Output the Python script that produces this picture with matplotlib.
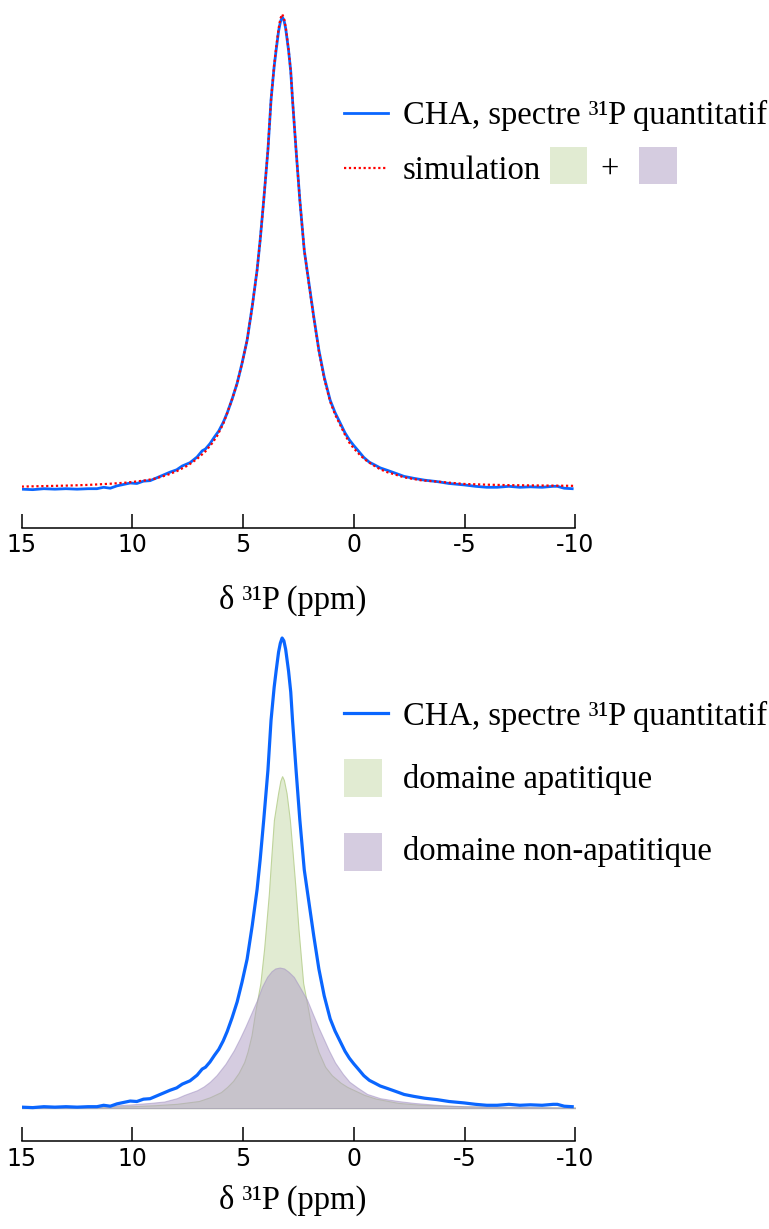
import matplotlib
matplotlib.use('Agg')
import matplotlib.pyplot as plt
from matplotlib.lines import Line2D
from matplotlib.patches import Rectangle

W, H = 769, 1229

# CHA quantitative 31P spectrum (ppm, intensity a.u.)
cha_ppm = [15.0, 14.5, 14.0, 13.5, 13.0, 12.5, 12.0, 11.6, 11.3, 11.0, 10.7,
           10.4, 10.1, 9.8, 9.5, 9.2, 8.9, 8.6, 8.3, 8.0, 7.75, 7.4, 7.08,
           6.85, 6.7, 6.5, 6.3, 6.1, 5.9, 5.72, 5.5, 5.27, 5.05, 4.82, 4.59,
           4.37, 4.23, 4.07, 3.88, 3.74, 3.6, 3.51, 3.4, 3.32, 3.24, 3.16,
           3.08, 2.95, 2.85, 2.77, 2.61, 2.44, 2.24, 2.03, 1.81, 1.58, 1.34,
           1.07, 0.85, 0.62, 0.4, 0.2, 0.0, -0.2, -0.45, -0.7, -0.95, -1.19,
           -1.5, -1.86, -2.27, -2.7, -3.2, -3.76, -4.3, -4.98, -5.5, -6.0,
           -6.47, -7.0, -7.5, -7.97, -8.5, -9.0, -9.19, -9.5, -9.86]
cha_int = [0.2, 0.1, 0.3, 0.2, 0.3, 0.2, 0.3, 0.3, 0.6, 0.4, 0.9,
           1.2, 1.5, 1.4, 1.9, 2.0, 2.6, 3.2, 3.8, 4.3, 5.1, 5.8, 7.0,
           8.3, 8.7, 9.8, 11.2, 12.5, 14.3, 16.3, 19.2, 22.6, 26.8, 31.7, 38.8,
           46.5, 52.9, 61.3, 71.9, 82.5, 89.5, 93.0, 97.0, 98.9, 100.0, 99.4,
           97.6, 93.0, 88.5, 82.5, 71.9, 61.3, 50.7, 43.8, 36.6, 29.6, 23.9,
           19.0, 16.4, 14.2, 12.1, 10.6, 9.4, 8.3, 6.9, 5.9, 5.3, 4.7,
           4.2, 3.6, 2.9, 2.5, 2.1, 1.8, 1.4, 1.1, 0.8, 0.6,
           0.6, 0.8, 0.6, 0.7, 0.6, 0.8, 0.8, 0.4, 0.3]

# simulation (sum of both domains)
sim_ppm = [15.0, 14.0, 13.0, 12.0, 11.0, 10.24, 9.5, 9.0, 8.43, 8.0, 7.5,
           7.08, 6.7, 6.4, 6.17, 5.9, 5.72, 5.5, 5.27, 5.05, 4.82, 4.59,
           4.37, 4.23, 4.07, 3.88, 3.74, 3.6, 3.51, 3.4, 3.32, 3.24, 3.16,
           3.08, 2.95, 2.85, 2.77, 2.61, 2.44, 2.24, 2.03, 1.81, 1.58, 1.34,
           1.07, 0.85, 0.62, 0.4, 0.2, 0.0, -0.3, -0.6, -0.9, -1.19, -1.5,
           -1.86, -2.27, -3.0, -3.76, -4.5, -5.0, -6.0, -7.0, -8.0, -9.0, -10.0]
sim_int = [0.75, 0.85, 0.95, 1.1, 1.35, 1.6, 2.0, 2.4, 3.2, 4.0, 5.2,
           6.6, 8.2, 9.9, 11.5, 14.0, 16.3, 19.2, 22.6, 26.8, 31.7, 38.8,
           46.5, 52.9, 61.3, 72.0, 82.5, 89.8, 93.5, 97.5, 99.6, 100.6, 99.8,
           97.9, 93.2, 88.5, 82.5, 71.9, 61.3, 50.7, 43.6, 36.4, 29.4, 23.6,
           18.7, 16.0, 13.8, 11.7, 10.0, 8.8, 7.3, 6.1, 5.2, 4.4, 3.8,
           3.3, 2.7, 2.1, 1.8, 1.5, 1.3, 1.15, 1.05, 1.0, 0.95, 0.9]

# apatitic domain component
apa_ppm = [15.0, 12.0, 10.0, 9.0, 8.0, 7.0, 6.5, 6.0, 5.72, 5.45, 5.2, 4.95,
           4.8, 4.62, 4.44, 4.22, 4.05, 3.84, 3.72, 3.61, 3.42, 3.32, 3.24,
           3.16, 3.04, 2.89, 2.76, 2.64, 2.5, 2.29, 2.06, 1.9, 1.6, 1.3, 1.0,
           0.6, 0.3, -0.47, -1.0, -2.0, -3.0, -5.0, -7.5, -10.0]
apa_int = [0.1, 0.2, 0.4, 0.6, 0.9, 1.5, 2.3, 3.4, 4.5, 5.8, 7.5, 9.8,
           12.0, 15.5, 20.9, 26.6, 34.0, 45.5, 54.0, 61.3, 67.0, 69.6, 70.6,
           69.8, 67.0, 61.3, 54.0, 47.0, 38.0, 26.6, 20.9, 16.5, 12.0, 8.8, 7.0,
           5.4, 4.5, 2.8, 2.0, 1.1, 0.7, 0.35, 0.2, 0.1]

# non-apatitic domain component
nap_ppm = [15.0, 13.0, 12.0, 11.0, 10.0, 9.2, 8.56, 8.0, 7.66, 7.08, 6.78,
           6.5, 6.2, 5.8, 5.42, 5.15, 4.9, 4.62, 4.37, 4.15, 3.92, 3.72, 3.55,
           3.35, 3.15, 2.95, 2.71, 2.45, 2.11, 1.85, 1.6, 1.35, 1.13, 0.85,
           0.5, 0.2, -0.15, -0.6, -1.19, -2.0, -2.7, -4.0, -5.0, -7.0, -10.0]
nap_int = [0.1, 0.2, 0.3, 0.5, 0.8, 1.1, 1.4, 2.1, 2.8, 3.8, 4.6,
           5.6, 7.0, 9.4, 12.3, 14.8, 17.3, 20.3, 23.0, 25.8, 27.9, 29.1, 29.7,
           29.9, 29.7, 29.0, 27.9, 25.8, 23.0, 20.0, 17.2, 14.6, 12.3, 9.7,
           7.3, 5.6, 4.4, 3.0, 2.1, 1.5, 1.1, 0.6, 0.4, 0.25, 0.1]

TICKS = [15, 10, 5, 0, -5, -10]
TICK_LABELS = ['15', '10', '5', '0', '-5', '-10']

BLUE = '#0a66ff'
RED = '#ff0000'
GREEN_FILL = '#e1ebd2'
GREEN_EDGE = '#bfd49b'
PURPLE = '#b3a2c7'
PURPLE_EDGE = '#a393c4'
SERIF = 'Liberation Serif'
FS = 23.5
XLABEL = 'δ ³¹P (ppm)'
CHA_LABEL = 'CHA, spectre ³¹P quantitatif'


def px_axes(fig, left, top, right, bottom):
    return fig.add_axes([left / W, 1 - bottom / H,
                         (right - left) / W, (bottom - top) / H])


def style_axis(ax, ymin, label_y):
    ax.set_xlim(15, -10)
    ax.set_ylim(ymin, 102)
    for side in ('left', 'right', 'top'):
        ax.spines[side].set_visible(False)
    ax.spines['bottom'].set_linewidth(1.1)
    ax.set_yticks([])
    ax.set_xticks(TICKS)
    ax.set_xticklabels(TICK_LABELS, fontsize=17, family='DejaVu Sans')
    ax.tick_params(axis='x', direction='in', length=10, width=1.1, pad=4)
    ax.set_xlabel(XLABEL, family=SERIF, fontsize=FS)
    ax.xaxis.set_label_coords(0.489, label_y)
    ax.patch.set_alpha(0)


fig = plt.figure(figsize=(W / 100, H / 100), dpi=100)

# top panel: spectrum + simulation
ax1 = px_axes(fig, 21.7, 7.5, 575.3, 527.5)
ax1.plot(cha_ppm, cha_int, color=BLUE, lw=2.0)
ax1.plot(sim_ppm, sim_int, color=RED, lw=1.6, linestyle=(0, (1, 1.2)))
style_axis(ax1, -7.9, -0.111)

# bottom panel: decomposition
ax2 = px_axes(fig, 21.7, 628.6, 575.3, 1141)
ax2.fill_between(apa_ppm, 0, apa_int, facecolor=GREEN_FILL,
                 edgecolor=GREEN_EDGE, lw=0.8)
ax2.fill_between(nap_ppm, 0, nap_int, facecolor=PURPLE, alpha=0.55,
                 edgecolor=PURPLE_EDGE, lw=0.8)
ax2.plot(cha_ppm, cha_int, color=BLUE, lw=2.3)
style_axis(ax2, -7.0, -0.086)

# hand-placed legends, in pixel coordinates
lg = fig.add_axes([0, 0, 1, 1])
lg.set_xlim(0, W)
lg.set_ylim(H, 0)
lg.axis('off')

txt = dict(family=SERIF, fontsize=FS, va='baseline', ha='left')
lg.add_line(Line2D([344, 388], [113, 113], color=BLUE, lw=2.0))
lg.text(403, 124, CHA_LABEL, **txt)
lg.add_line(Line2D([344, 388], [168, 168], color=RED, lw=1.6,
                   linestyle=(0, (1, 1.2))))
lg.text(403, 179, 'simulation', **txt)
lg.add_patch(Rectangle((550, 147), 37, 37, facecolor=GREEN_FILL, lw=0))
lg.text(610, 179, '+', family=SERIF, fontsize=FS, va='baseline', ha='center')
lg.add_patch(Rectangle((639, 147), 38, 37, facecolor=PURPLE, alpha=0.55, lw=0))

lg.add_line(Line2D([344, 388], [713, 713], color=BLUE, lw=2.3))
lg.text(403, 725, CHA_LABEL, **txt)
lg.add_patch(Rectangle((344, 759), 38, 38, facecolor=GREEN_FILL, lw=0))
lg.text(403, 788, 'domaine apatitique', **txt)
lg.add_patch(Rectangle((344, 833), 38, 38, facecolor=PURPLE, alpha=0.55, lw=0))
lg.text(403, 860, 'domaine non-apatitique', **txt)

fig.savefig('out.png', dpi=100)
